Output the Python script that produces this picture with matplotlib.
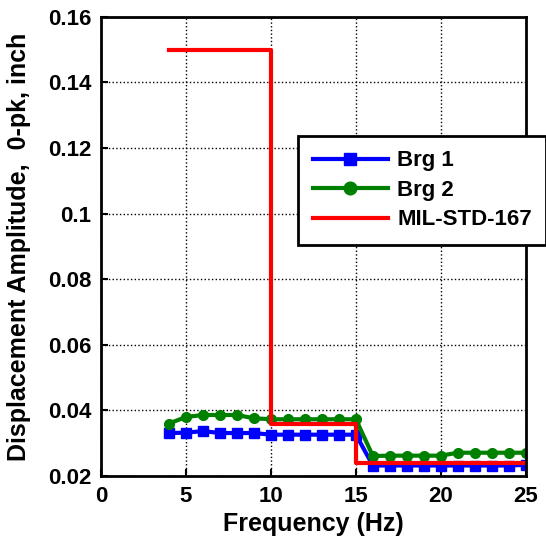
import numpy as np
import matplotlib
matplotlib.use("Agg")
import matplotlib.pyplot as plt

plt.rcParams['font.family'] = ['Liberation Sans', 'DejaVu Sans']
plt.rcParams['font.weight'] = 'bold'

freq = np.arange(4, 26)
brg1 = [0.0331, 0.0332, 0.0337, 0.0331, 0.0331, 0.0331,
        0.0326, 0.0326, 0.0326, 0.0326, 0.0326, 0.0326,
        0.0232, 0.0232, 0.0232, 0.0232, 0.0232, 0.0232, 0.0232, 0.0232, 0.0232, 0.0234]
brg2 = [0.0360, 0.0380, 0.0386, 0.0386, 0.0386, 0.0376,
        0.0373, 0.0373, 0.0373, 0.0373, 0.0373, 0.0373,
        0.0261, 0.0262, 0.0262, 0.0262, 0.0262, 0.0271, 0.0271, 0.0271, 0.0271, 0.0271]
std_freq = [4, 10, 10, 15, 15, 25]
std_amp = [0.15, 0.15, 0.036, 0.036, 0.024, 0.024]

fig = plt.figure(figsize=(5.46, 5.44), dpi=100)
ax = fig.add_axes([0.185, 0.125, 0.778, 0.844])

ax.plot(freq, brg1, color='blue', lw=3, marker='s', ms=7, mfc='blue', mec='blue', label='Brg 1')
ax.plot(freq, brg2, color='green', lw=3, marker='o', ms=7, mfc='green', mec='green', label='Brg 2')
ax.plot(std_freq, std_amp, color='red', lw=3, label='MIL-STD-167')

ax.set_xlim(0, 25)
ax.set_ylim(0.02, 0.16)
ax.set_xticks(np.arange(0, 26, 5))
ax.set_yticks([0.02, 0.04, 0.06, 0.08, 0.1, 0.12, 0.14, 0.16])
ax.set_yticklabels(['0.02', '0.04', '0.06', '0.08', '0.1', '0.12', '0.14', '0.16'])
ax.grid(True, color='black', linestyle=':', linewidth=1)
ax.tick_params(labelsize=16, direction='in', length=5, width=1.5, pad=7)
for s in ax.spines.values():
    s.set_linewidth(2)

ax.set_xlabel('Frequency (Hz)', fontsize=18, fontweight='bold', labelpad=4)
ax.set_ylabel('Displacement Amplitude,  0-pk, inch', fontsize=18, fontweight='bold', labelpad=12)

leg = ax.legend(loc='upper left', bbox_to_anchor=(0.546, 0.75), bbox_transform=fig.transFigure,
                fontsize=16, frameon=True, fancybox=False, edgecolor='black',
                handlelength=3.4, handletextpad=0.4, labelspacing=0.38, borderaxespad=0,
                borderpad=0.65, framealpha=1, markerscale=1.3)
leg.get_frame().set_linewidth(2)

fig.savefig('out.png', dpi=100)
